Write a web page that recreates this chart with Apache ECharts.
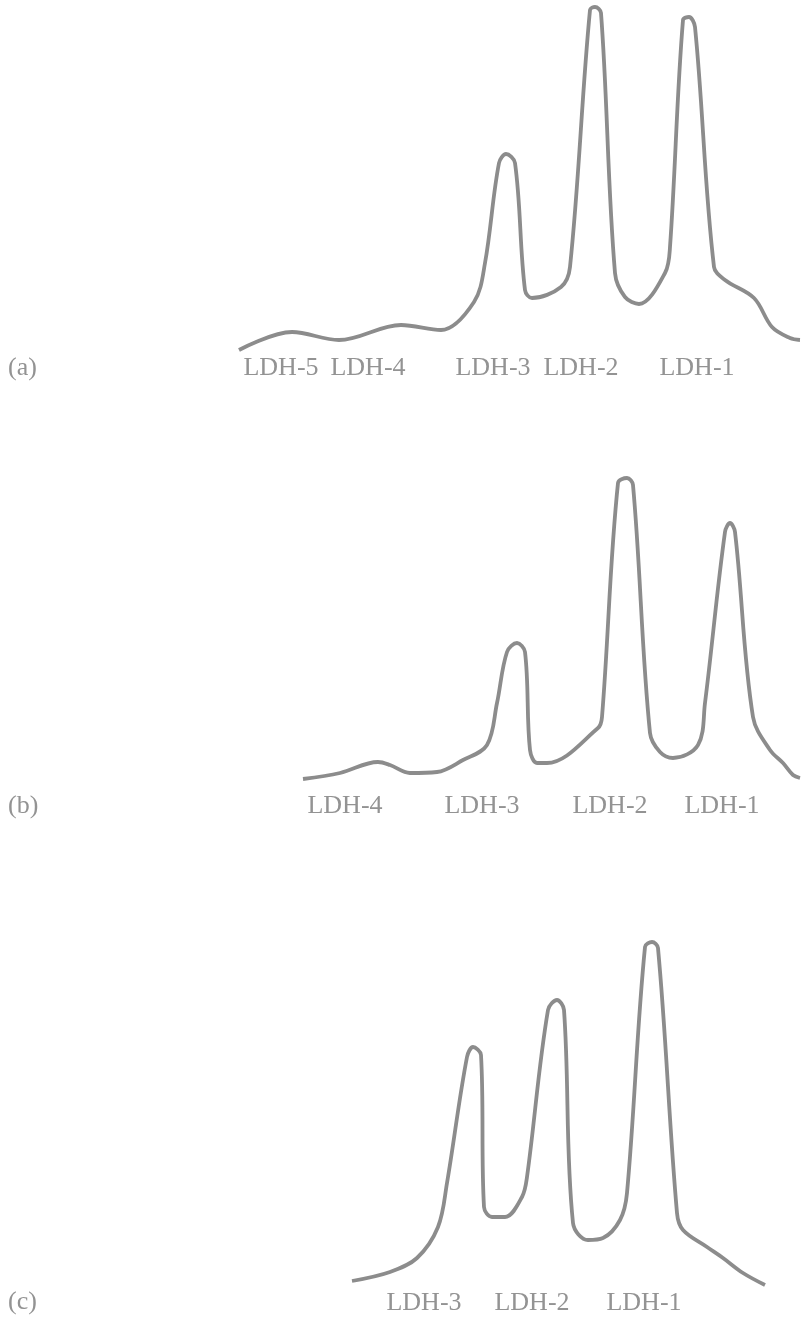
<!DOCTYPE html>
<html>
<head>
<meta charset="utf-8">
<script src="https://cdn.jsdelivr.net/npm/echarts@6/dist/echarts.min.js"></script>
<style>
html,body{margin:0;padding:0;background:#fff;}
#c{width:801px;height:1327px;}
</style>
</head>
<body>
<div id="c"></div>
<script>
// Trace (a): [position, intensity]
var traceA = [[239,0],[292,18],[339,10],[401,25],[441,20],[474,48],[485,87],[499,187],[506,196],[515,187],[525,60],[532,52],[561,63],[570,83],[590,340],[595,343],[601,337],[615,77],[625,53],[639,46],[665,77],[670,103],[683,330],[689,333],[695,323],[714,83],[725,70],[754,52],[772,23],[790,12],[800,10]];
// Trace (b)
var traceB = [[303,11],[340,17],[378,28],[390,25],[410,17],[437,18],[463,30],[487,45],[497,87],[507,138],[517,147],[525,138],[530,40],[537,27],[547,27],[598,62],[602,73],[618,307],[627,312],[633,305],[650,57],[660,38],[673,32],[698,45],[705,87],[725,258],[730,267],[735,258],[753,73],[770,40],[783,27],[793,15],[800,12]];
// Trace (c)
var traceC = [[352,9],[390,18],[417,32],[438,63],[447,107],[467,233],[473,243],[481,235],[484,83],[492,73],[505,73],[522,93],[527,113],[548,280],[557,290],[564,280],[573,67],[588,50],[603,52],[620,70],[627,97],[645,343],[652,348],[658,342],[677,77],[683,60],[707,43],[723,32],[743,17],[765,5]];

// Band labels and their positions on the x axis
var labelsA = ['LDH-5','LDH-4','LDH-3','LDH-2','LDH-1'];
var labelPosA = [281,368,493,581,697];
var labelsB = ['LDH-4','LDH-3','LDH-2','LDH-1'];
var labelPosB = [345,482,610,722];
var labelsC = ['LDH-3','LDH-2','LDH-1'];
var labelPosC = [424,532,644];
var panelNames = ['(a)','(b)','(c)'];

var FONT = '"Liberation Serif", "DejaVu Serif", serif';
var TEXT_COLOR = '#939393';
var LINE_COLOR = '#8c8c8c';

function xAxisFor(idx, labels, pos, margin){
  return {
    gridIndex: idx, type: 'value', min: 0, max: 801,
    axisLine: {show:false}, axisTick: {show:false}, splitLine: {show:false},
    axisLabel: {
      show: true, customValues: pos, margin: margin,
      fontFamily: FONT, fontSize: 26, color: TEXT_COLOR,
      formatter: function(v){ var i = pos.indexOf(v); return i >= 0 ? labels[i] : ''; }
    }
  };
}
function yAxisFor(idx, h){
  return {gridIndex: idx, type:'value', min:0, max:h, show:false};
}
function seriesFor(idx, data){
  return {
    type:'line', xAxisIndex: idx, yAxisIndex: idx, data: data,
    smooth: 0.35, symbol: 'none', clip: false,
    lineStyle: {color: LINE_COLOR, width: 3.8}
  };
}

var chart = echarts.init(document.getElementById('c'), null, {renderer:'canvas'});
chart.setOption({
  backgroundColor: '#ffffff',
  animation: false,
  grid: [
    {left:0, right:0, top:0, height:350},
    {left:0, right:0, top:470, height:320},
    {left:0, right:0, top:930, height:360}
  ],
  xAxis: [
    xAxisFor(0, labelsA, labelPosA, 5),
    xAxisFor(1, labelsB, labelPosB, 3),
    xAxisFor(2, labelsC, labelPosC, 0)
  ],
  yAxis: [yAxisFor(0,350), yAxisFor(1,320), yAxisFor(2,360)],
  series: [seriesFor(0, traceA), seriesFor(1, traceB), seriesFor(2, traceC)],
  graphic: [
    {type:'text', left:8, top:355, style:{text:panelNames[0], font:'26px ' + FONT, fill:TEXT_COLOR}},
    {type:'text', left:8, top:793, style:{text:panelNames[1], font:'26px ' + FONT, fill:TEXT_COLOR}},
    {type:'text', left:8, top:1289, style:{text:panelNames[2], font:'26px ' + FONT, fill:TEXT_COLOR}}
  ]
});
</script>
</body>
</html>
